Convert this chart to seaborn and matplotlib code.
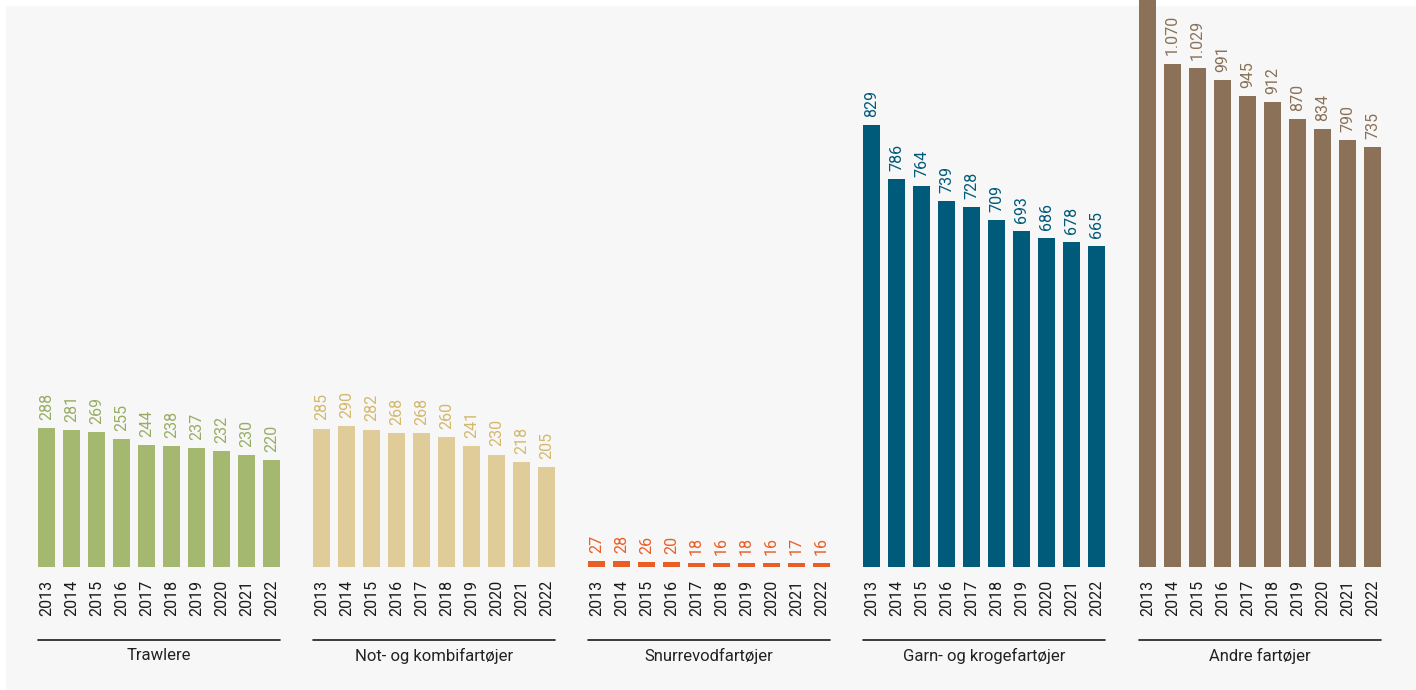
"""Fleet size by vessel group, 2013-2022."""

import matplotlib.pyplot as plt
import pandas as pd
import seaborn as sns
from matplotlib import font_manager
from matplotlib.patches import Rectangle

YEARS = [str(y) for y in range(2013, 2023)]
GROUPS = ["Trawlere", "Not- og kombifartøjer", "Snurrevodfartøjer",
          "Garn- og krogefartøjer", "Andre fartøjer"]

# Printed numbers above the bars.
trawlere_lbl = [288, 281, 269, 255, 244, 238, 237, 232, 230, 220]
not_lbl = [285, 290, 282, 268, 268, 260, 241, 230, 218, 205]
snurre_lbl = [27, 28, 26, 20, 18, 16, 18, 16, 17, 16]
garn_lbl = [829, 786, 764, 739, 728, 709, 693, 686, 678, 665]
andre_lbl = [1113, 1070, 1029, 991, 945, 912, 870, 834, 790, 735]  # 2013 cut off

# Bar heights as drawn in the source (they do not quite follow the labels).
trawlere_h = [283, 279, 275, 261, 248, 246, 242, 236, 228, 218]
not_h = [282, 288, 280, 273, 273, 265, 247, 229, 214, 204]
snurre_h = [12, 12, 10, 10, 8, 8, 8, 8, 8, 8]
garn_h = [902, 792, 778, 747, 735, 708, 686, 671, 663, 655]
andre_h = [1200, 1027, 1018, 994, 961, 949, 914, 894, 871, 857]

BAR_COLORS = ["#a4b870", "#dfcc99", "#e95e25", "#005a7a", "#8a7157"]
TEXT_COLORS = ["#97ad62", "#d3b86c", "#e95e25", "#005a7a", "#8a7157"]

rows = []
for g, hs, ls in zip(GROUPS,
                     [trawlere_h, not_h, snurre_h, garn_h, andre_h],
                     [trawlere_lbl, not_lbl, snurre_lbl, garn_lbl, andre_lbl]):
    for y, h, l in zip(YEARS, hs, ls):
        rows.append({"group": g, "year": y, "height": h, "label": l})
df = pd.DataFrame(rows)

sns.set_theme(style="white")
available = {f.name for f in font_manager.fontManager.ttflist}
family = "Liberation Sans Narrow" if "Liberation Sans Narrow" in available else "Roboto"
plt.rcParams["font.family"] = [family, "DejaVu Sans"]

W, H = 1416, 690
fig = plt.figure(figsize=(W / 100, H / 100), dpi=100)
fig.patch.set_facecolor("white")
# light grey panel behind the chart
panel = Rectangle((6 / W, 0), 1, 1 - 6 / H, transform=fig.transFigure,
                  facecolor="#f7f7f7", edgecolor="none", zorder=-10)
fig.add_artist(panel)

base_px = 567
px_per_unit = 0.49
group_w = 242
starts = [38, 313, 588, 863, 1139]

for i, g in enumerate(GROUPS):
    sub = df[df["group"] == g]
    ax = fig.add_axes([starts[i] / W, (H - base_px) / H, group_w / W, base_px / H])
    ax.set_facecolor("none")
    sns.barplot(data=sub, x="year", y="height", color=BAR_COLORS[i],
                saturation=1, width=0.68, linewidth=0, ax=ax)
    ax.set_xlim(-0.34, 9.34)
    ax.set_ylim(0, base_px / px_per_unit)

    for j, (h, l) in enumerate(zip(sub["height"], sub["label"])):
        txt = f"{l:,}".replace(",", ".")
        ax.annotate(txt, (j, h), xytext=(0, 6), textcoords="offset points",
                    rotation=90, ha="center", va="bottom", fontsize=11.5,
                    color=TEXT_COLORS[i], annotation_clip=True)

    ax.tick_params(axis="x", length=0, pad=9, labelsize=11.5, labelcolor="#1a1a1a",
                   labelrotation=90)
    ax.set_yticks([])
    ax.set_xlabel("")
    ax.set_ylabel("")
    sns.despine(ax=ax, left=True, bottom=True)

    # underline and group name below the year labels
    y_line = -(640 - base_px) / base_px
    ax.plot([0, 1], [y_line, y_line], transform=ax.transAxes, color="#1a1a1a",
            linewidth=1.2, clip_on=False)
    ax.text(0.5, -(656 - base_px) / base_px, g, transform=ax.transAxes,
            ha="center", va="center", fontsize=12, color="#222222")

fig.savefig("out.png", dpi=100)
